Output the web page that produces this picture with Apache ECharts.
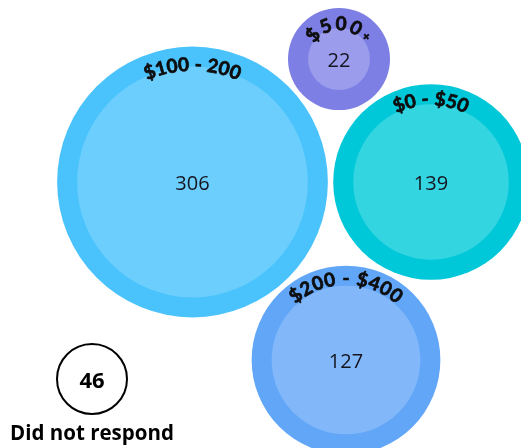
<!DOCTYPE html>
<html>
<head>
<meta charset="utf-8">
<script src="https://cdn.jsdelivr.net/npm/echarts@6/dist/echarts.min.js"></script>
<style>
  html, body { margin: 0; padding: 0; background: #fff; }
  #chart { width: 521px; height: 448px; }
</style>
</head>
<body>
<div id="chart"></div>
<script>
// Monthly spend brackets and the number of respondents in each
const categories = ['$0 - $50', '$100 - 200', '$200 - $400', '$500+'];
const respondents = [139, 306, 127, 22];
const noResponseLabel = 'Did not respond';
const noResponseCount = 46;

// Bubble-pack layout (plot units = pixels of a 521 x 448 canvas)
const bubbleCenters = [[431, 182], [192.5, 182], [346, 360], [339, 59]];
const noResponseCenter = [92, 379];

const outerColors = ['#00c8d9', '#4ac3fd', '#62a6f8', '#7e7fe4'];
const innerColors = ['#33d5e1', '#6bcefc', '#82b7f9', '#9b9cec'];
// radius inset of the curved label from the outer edge, and letter spacing
const arcInset = [15, 18, 13, 16];
const arcSpacing = [0.7, 0.5, 1.4, 4.5];

const RING = 20;
function outerRadius(v) { return 20.1 + 6.59 * Math.sqrt(v); }

const measureCtx = document.createElement('canvas').getContext('2d');
function charWidth(ch, font) { measureCtx.font = font; return measureCtx.measureText(ch).width; }

const arcFamily = 'Lato';
function arcGlyphs(text) {
  // trailing "+" is set smaller, like a superscript mark
  return text.split('').map(ch => ({ ch, size: ch === '+' ? 12 : 19 }));
}

const pointData = categories.map((c, i) => ({
  name: c,
  value: [bubbleCenters[i][0], bubbleCenters[i][1], respondents[i]]
}));

const chart = echarts.init(document.getElementById('chart'), null, { renderer: 'canvas' });

chart.setOption({
  animation: false,
  grid: { left: 0, right: 0, top: 0, bottom: 0 },
  xAxis: { type: 'value', min: 0, max: 521, show: false },
  yAxis: { type: 'value', min: 0, max: 448, inverse: true, show: false },
  series: [
    {
      name: 'outer',
      type: 'scatter',
      z: 2,
      data: pointData,
      symbolSize: v => 2 * outerRadius(v[2]),
      itemStyle: { color: p => outerColors[p.dataIndex], opacity: 1 },
      emphasis: { disabled: true },
      silent: true
    },
    {
      name: 'inner',
      type: 'scatter',
      z: 3,
      data: pointData,
      symbolSize: v => 2 * (outerRadius(v[2]) - RING),
      itemStyle: { color: p => innerColors[p.dataIndex], opacity: 1 },
      label: {
        show: true,
        position: 'inside',
        offset: [0, 2],
        formatter: p => String(p.value[2]),
        color: '#15151f',
        fontFamily: 'Open Sans',
        fontSize: 20,
        fontWeight: 400
      },
      emphasis: { disabled: true },
      silent: true
    },
    {
      name: 'arcLabels',
      type: 'custom',
      z: 5,
      data: pointData,
      renderItem: function (params, api) {
        const i = params.dataIndex;
        const c = api.coord([api.value(0), api.value(1)]);
        const R = outerRadius(api.value(2)) - arcInset[i];
        const glyphs = arcGlyphs(categories[i]);
        const ls = arcSpacing[i];
        glyphs.forEach(g => {
          g.font = '700 ' + g.size + 'px ' + arcFamily;
          g.w = charWidth(g.ch, g.font);
        });
        const total = glyphs.reduce((s, g) => s + g.w, 0) + ls * (glyphs.length - 1);
        let s = -total / 2;
        const children = [];
        glyphs.forEach(g => {
          const theta = (s + g.w / 2) / R;
          s += g.w + ls;
          if (g.ch === ' ') return;
          children.push({
            type: 'text',
            x: c[0] + R * Math.sin(theta),
            y: c[1] - R * Math.cos(theta),
            rotation: -theta,
            style: {
              text: g.ch,
              fill: '#0d0d0d',
              stroke: '#0d0d0d',
              lineWidth: 0.7,
              font: g.font,
              align: 'center',
              verticalAlign: 'middle'
            }
          });
        });
        return { type: 'group', children };
      },
      silent: true
    },
    {
      name: 'noResponse',
      type: 'custom',
      z: 5,
      data: [[noResponseCenter[0], noResponseCenter[1], noResponseCount]],
      renderItem: function (params, api) {
        const c = api.coord([api.value(0), api.value(1)]);
        return {
          type: 'group',
          children: [
            {
              type: 'circle',
              shape: { cx: c[0], cy: c[1], r: 35 },
              style: { fill: '#fff', stroke: '#000', lineWidth: 2 }
            },
            {
              type: 'text',
              x: c[0], y: c[1] + 3,
              style: {
                text: String(api.value(2)),
                fill: '#000',
                font: '700 22px "Open Sans"',
                align: 'center',
                verticalAlign: 'middle'
              }
            },
            {
              type: 'text',
              x: c[0], y: c[1] + 55,
              style: {
                text: noResponseLabel,
                fill: '#000',
                font: '700 20.5px "Open Sans"',
                align: 'center',
                verticalAlign: 'middle'
              }
            }
          ]
        };
      },
      silent: true
    }
  ]
});
</script>
</body>
</html>
